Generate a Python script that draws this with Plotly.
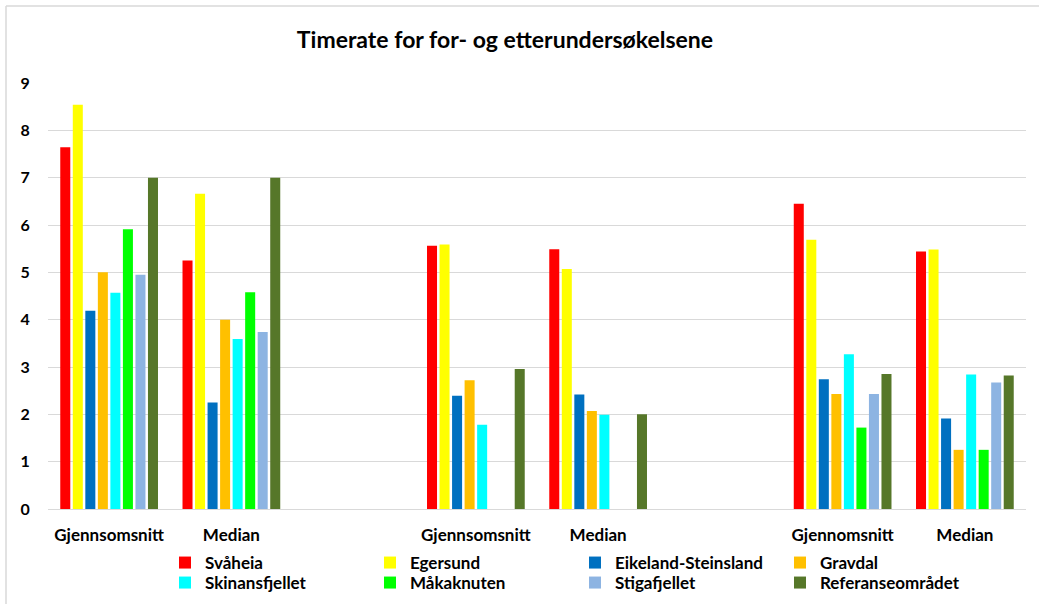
import plotly.graph_objects as go

# Category slots along the x axis (empty strings are spacer slots between surveys)
categories = ["Gjennsomsnitt", "Median", "", "Gjennsomsnitt", "Median", "",
              "Gjennomsnitt", "Median"]

series_names = ["Svåheia", "Egersund", "Eikeland-Steinsland", "Gravdal",
                "Skinansfjellet", "Måkaknuten", "Stigafjellet", "Referanseområdet"]

svaheia = [7.64, 5.25, None, 5.56, 5.49, None, 6.45, 5.44]
egersund = [8.54, 6.66, None, 5.59, 5.07, None, 5.69, 5.48]
eikeland_steinsland = [4.19, 2.25, None, 2.39, 2.42, None, 2.74, 1.91]
gravdal = [5.00, 4.00, None, 2.72, 2.07, None, 2.43, 1.25]
skinansfjellet = [4.57, 3.59, None, 1.78, 1.99, None, 3.27, 2.84]
makaknuten = [5.91, 4.58, None, None, None, None, 1.72, 1.25]
stigafjellet = [4.95, 3.74, None, None, None, None, 2.43, 2.67]
referanseomradet = [7.00, 7.00, None, 2.96, 2.00, None, 2.85, 2.82]

y_ticks = [0, 1, 2, 3, 4, 5, 6, 7, 8, 9]

series_values = [svaheia, egersund, eikeland_steinsland, gravdal,
                 skinansfjellet, makaknuten, stigafjellet, referanseomradet]
colors = ["#FF0000", "#FFFF00", "#0070C0", "#FFC000",
          "#00FFFF", "#00FF00", "#8DB4E2", "#567729"]

FONT = "Lato"
x_pos = list(range(len(categories)))

fig = go.Figure()
for i, (name, vals, col) in enumerate(zip(series_names, series_values, colors)):
    fig.add_trace(go.Bar(
        x=x_pos, y=vals, name=name,
        marker=dict(color=col, line=dict(width=0)),
        legend="legend" if i < 4 else "legend2",
    ))

L, R, T, B = 48, 13, 83, 95
W, H = 1039, 604
pw, ph = W - L - R, H - T - B


def px_x(px):
    return (px - L) / pw


def px_y(py):
    return (H - B - py) / ph


legend_common = dict(
    orientation="h", xanchor="left", yanchor="middle",
    xref="container", yref="container",
    font=dict(family=FONT, size=17, color="#000000", weight="bold"),
    entrywidth=160, entrywidthmode="pixels",
    bgcolor="rgba(0,0,0,0)", itemclick=False, itemdoubleclick=False,
    tracegroupgap=0,
)

fig.update_layout(
    width=W, height=H,
    margin=dict(l=L, r=R, t=T, b=B, pad=0, autoexpand=False),
    paper_bgcolor="white", plot_bgcolor="white",
    barmode="group", bargap=0.18, bargroupgap=0.2,
    title=dict(
        text="Timerate for for- og etterundersøkelsene",
        x=505 / W, xanchor="center", xref="container",
        y=1 - 40 / H, yanchor="middle", yref="container",
        font=dict(family=FONT, size=23, color="#000000", weight="bold"),
    ),
    xaxis=dict(
        tickmode="array", tickvals=x_pos, ticktext=categories,
        range=[-0.5, len(categories) - 0.5],
        showgrid=False, zeroline=False,
        showline=False,
        ticks="outside", ticklen=11, tickcolor="rgba(0,0,0,0)",
        tickfont=dict(family=FONT, size=17, color="#000000", weight="bold"),
        fixedrange=True,
    ),
    yaxis=dict(
        range=[0, 9], tickvals=y_ticks,
        showgrid=True, gridcolor="#D9D9D9", gridwidth=1.3,
        zeroline=True, zerolinecolor="#D9D9D9", zerolinewidth=1.3,
        showline=False,
        ticks="outside", ticklen=14, tickcolor="rgba(0,0,0,0)",
        tickfont=dict(family=FONT, size=16, color="#000000", weight="bold"),
        fixedrange=True,
    ),
    legend=dict(x=165 / W, y=1 - 563 / H, **legend_common),
    legend2=dict(x=165 / W, y=1 - 583 / H, **legend_common),
    showlegend=True,
    shapes=[
        # chart frame edges
        dict(type="line", xref="paper", yref="paper",
             x0=px_x(6), x1=px_x(6), y0=px_y(620), y1=px_y(6),
             line=dict(color="#D9D9D9", width=1.5)),
        dict(type="line", xref="paper", yref="paper",
             x0=px_x(6), x1=px_x(1045), y0=px_y(6), y1=px_y(6),
             line=dict(color="#D9D9D9", width=1.5)),
    ],
)

fig.write_html("out.html")
